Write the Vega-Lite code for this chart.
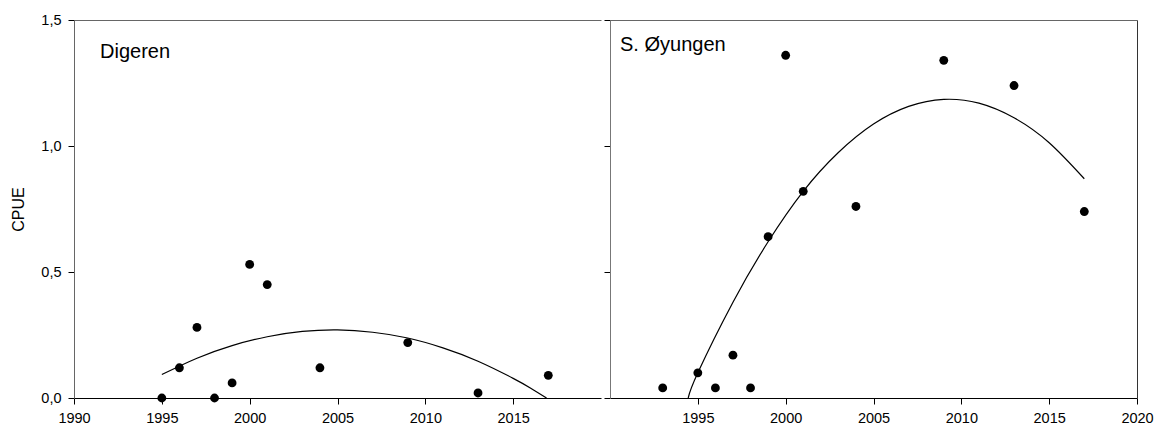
{
  "$schema": "https://vega.github.io/schema/vega-lite/v6.json",
  "background": "white",
  "padding": {"left": 10, "top": 12, "right": 0, "bottom": 5},
  "config": {
    "view": {"stroke": null},
    "font": "Liberation Sans",
    "axis": {
      "grid": false,
      "labelFont": "Liberation Sans",
      "labelFontSize": 14.5,
      "labelColor": "black",
      "labelFlush": false,
      "labelOverlap": false,
      "tickColor": "black",
      "tickSize": 6,
      "labelPadding": 7,
      "domainColor": "black",
      "titleFont": "Liberation Sans",
      "titleFontSize": 16,
      "titleFontWeight": "normal",
      "titleColor": "black"
    }
  },
  "datasets": {
    "pts": [
      {"lake": "Digeren", "year": 1995, "cpue": 0.0},
      {"lake": "Digeren", "year": 1996, "cpue": 0.12},
      {"lake": "Digeren", "year": 1997, "cpue": 0.28},
      {"lake": "Digeren", "year": 1998, "cpue": 0.0},
      {"lake": "Digeren", "year": 1999, "cpue": 0.06},
      {"lake": "Digeren", "year": 2000, "cpue": 0.53},
      {"lake": "Digeren", "year": 2001, "cpue": 0.45},
      {"lake": "Digeren", "year": 2004, "cpue": 0.12},
      {"lake": "Digeren", "year": 2009, "cpue": 0.22},
      {"lake": "Digeren", "year": 2013, "cpue": 0.02},
      {"lake": "Digeren", "year": 2017, "cpue": 0.09},
      {"lake": "S. Øyungen", "year": 1993, "cpue": 0.04},
      {"lake": "S. Øyungen", "year": 1995, "cpue": 0.10},
      {"lake": "S. Øyungen", "year": 1996, "cpue": 0.04},
      {"lake": "S. Øyungen", "year": 1997, "cpue": 0.17},
      {"lake": "S. Øyungen", "year": 1998, "cpue": 0.04},
      {"lake": "S. Øyungen", "year": 1999, "cpue": 0.64},
      {"lake": "S. Øyungen", "year": 2000, "cpue": 1.36},
      {"lake": "S. Øyungen", "year": 2001, "cpue": 0.82},
      {"lake": "S. Øyungen", "year": 2004, "cpue": 0.76},
      {"lake": "S. Øyungen", "year": 2009, "cpue": 1.34},
      {"lake": "S. Øyungen", "year": 2013, "cpue": 1.24},
      {"lake": "S. Øyungen", "year": 2017, "cpue": 0.74}
    ],
    "fit": [
      {"lake": "Digeren", "year": 1995, "cpue": 0.093},
      {"lake": "Digeren", "year": 1997, "cpue": 0.158},
      {"lake": "Digeren", "year": 1999, "cpue": 0.208},
      {"lake": "Digeren", "year": 2001, "cpue": 0.243},
      {"lake": "Digeren", "year": 2003, "cpue": 0.264},
      {"lake": "Digeren", "year": 2005, "cpue": 0.27},
      {"lake": "Digeren", "year": 2007, "cpue": 0.261},
      {"lake": "Digeren", "year": 2009, "cpue": 0.238},
      {"lake": "Digeren", "year": 2011, "cpue": 0.199},
      {"lake": "Digeren", "year": 2013, "cpue": 0.146},
      {"lake": "Digeren", "year": 2015, "cpue": 0.078},
      {"lake": "Digeren", "year": 2016, "cpue": 0.039},
      {"lake": "Digeren", "year": 2016.9, "cpue": 0.0},
      {"lake": "S. Øyungen", "year": 1994.45, "cpue": 0.0},
      {"lake": "S. Øyungen", "year": 1995, "cpue": 0.10},
      {"lake": "S. Øyungen", "year": 1997, "cpue": 0.38},
      {"lake": "S. Øyungen", "year": 1999, "cpue": 0.62},
      {"lake": "S. Øyungen", "year": 2001, "cpue": 0.82},
      {"lake": "S. Øyungen", "year": 2003, "cpue": 0.974},
      {"lake": "S. Øyungen", "year": 2005, "cpue": 1.087},
      {"lake": "S. Øyungen", "year": 2007, "cpue": 1.157},
      {"lake": "S. Øyungen", "year": 2009, "cpue": 1.185},
      {"lake": "S. Øyungen", "year": 2011, "cpue": 1.17},
      {"lake": "S. Øyungen", "year": 2013, "cpue": 1.112},
      {"lake": "S. Øyungen", "year": 2015, "cpue": 1.013},
      {"lake": "S. Øyungen", "year": 2017, "cpue": 0.87}
    ],
    "labels": [
      {"lake": "Digeren"},
      {"lake": "S. Øyungen"}
    ]
  },
  "spacing": 9,
  "bounds": "flush",
  "hconcat": [
    {
      "width": 527,
      "height": 378,
      "layer": [
        {
          "data": {"name": "pts"},
          "transform": [{"filter": "datum.lake === 'Digeren'"}],
          "mark": {"type": "circle", "size": 78, "color": "black", "opacity": 1},
          "encoding": {
            "x": {"field": "year", "type": "quantitative",
              "scale": {"domain": [1990, 2020], "nice": false, "zero": false},
              "axis": {"orient": "bottom", "title": null, "values": [1990, 1995, 2000, 2005, 2010, 2015], "format": "d"}},
            "y": {"field": "cpue", "type": "quantitative",
              "scale": {"domain": [0, 1.5], "nice": false},
              "axis": {"orient": "left", "title": "CPUE", "titlePadding": 14, "values": [0, 0.5, 1, 1.5], "domainColor": "#666666",
                "labelExpr": "replace(format(datum.value, '.1f'), '.', ',')"}}
          }
        },
        {
          "data": {"name": "fit"},
          "transform": [{"filter": "datum.lake === 'Digeren'"}],
          "mark": {"type": "line", "color": "black", "strokeWidth": 1.2, "interpolate": "natural"},
          "encoding": {
            "x": {"field": "year", "type": "quantitative",
              "axis": {"orient": "top", "title": null, "labels": false, "ticks": false, "domainColor": "#666666"}},
            "y": {"field": "cpue", "type": "quantitative", "axis": null}
          }
        },
        {
          "data": {"name": "labels"},
          "transform": [{"filter": "datum.lake === 'Digeren'"}],
          "mark": {"type": "text", "align": "left", "baseline": "alphabetic", "fontSize": 20, "font": "Liberation Sans", "color": "black"},
          "encoding": {
            "x": {"datum": 1991.48, "type": "quantitative", "axis": null},
            "y": {"datum": 1.349, "type": "quantitative", "axis": null},
            "text": {"field": "lake"}
          }
        }
      ],
      "resolve": {"axis": {"x": "independent", "y": "independent"}}
    },
    {
      "width": 527,
      "height": 378,
      "layer": [
        {
          "data": {"name": "pts"},
          "transform": [{"filter": "datum.lake === 'S. Øyungen'"}],
          "mark": {"type": "circle", "size": 78, "color": "black", "opacity": 1},
          "encoding": {
            "x": {"field": "year", "type": "quantitative",
              "scale": {"domain": [1990, 2020], "nice": false, "zero": false},
              "axis": {"orient": "bottom", "title": null, "values": [1995, 2000, 2005, 2010, 2015, 2020], "format": "d"}},
            "y": {"field": "cpue", "type": "quantitative",
              "scale": {"domain": [0, 1.5], "nice": false},
              "axis": {"orient": "left", "title": null, "labels": false, "values": [0, 0.5, 1, 1.5], "domainColor": "#777777"}}
          }
        },
        {
          "data": {"name": "fit"},
          "transform": [{"filter": "datum.lake === 'S. Øyungen'"}],
          "mark": {"type": "line", "color": "black", "strokeWidth": 1.2, "interpolate": "natural"},
          "encoding": {
            "x": {"field": "year", "type": "quantitative",
              "axis": {"orient": "top", "title": null, "labels": false, "ticks": false, "domainColor": "#666666"}},
            "y": {"field": "cpue", "type": "quantitative",
              "axis": {"orient": "right", "title": null, "labels": false, "ticks": false, "domainColor": "#333333"}}
          }
        },
        {
          "data": {"name": "labels"},
          "transform": [{"filter": "datum.lake === 'S. Øyungen'"}],
          "mark": {"type": "text", "align": "left", "baseline": "alphabetic", "fontSize": 20, "font": "Liberation Sans", "color": "black"},
          "encoding": {
            "x": {"datum": 1990.57, "type": "quantitative", "axis": null},
            "y": {"datum": 1.377, "type": "quantitative", "axis": null},
            "text": {"field": "lake"}
          }
        }
      ],
      "resolve": {"axis": {"x": "independent", "y": "independent"}}
    }
  ]
}
